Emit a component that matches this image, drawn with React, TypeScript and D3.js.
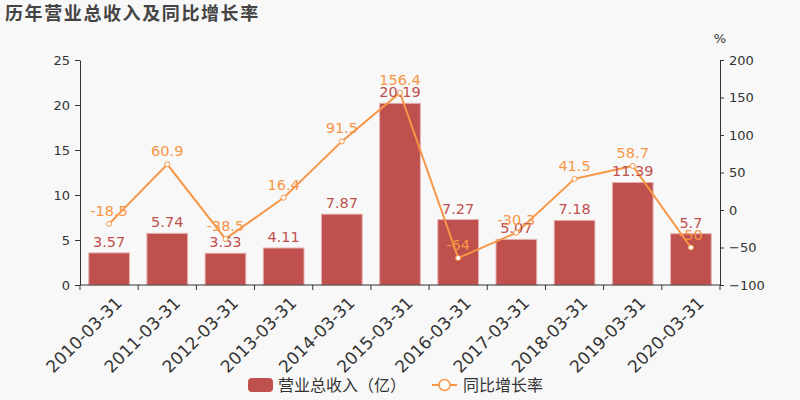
import React, { useRef, useEffect } from "react";
import * as d3 from "d3";

const CATEGORIES = [
  "2010-03-31", "2011-03-31", "2012-03-31", "2013-03-31", "2014-03-31", "2015-03-31",
  "2016-03-31", "2017-03-31", "2018-03-31", "2019-03-31", "2020-03-31",
];
const REVENUE = [3.57, 5.74, 3.53, 4.11, 7.87, 20.19, 7.27, 5.07, 7.18, 11.39, 5.7];
const GROWTH = [-18.5, 60.9, -38.5, 16.4, 91.5, 156.4, -64, -30.3, 41.5, 58.7, -50];
const LEFT_TICKS = [0, 5, 10, 15, 20, 25];
const RIGHT_TICKS = [-100, -50, 0, 50, 100, 150, 200];

const BAR_COLOR = "#c0504d";
const LINE_COLOR = "#f79646";
const TEXT_COLOR = "#333";
const FONT = "'DejaVu Sans', 'Noto Sans CJK SC', sans-serif";

const W = 800;
const H = 400;

const App: React.FC = () => {
  const svgRef = useRef<SVGSVGElement | null>(null);

  useEffect(() => {
    if (!svgRef.current) return;
    const svg = d3.select(svgRef.current);
    svg.selectAll("*").remove();

    const margin = { top: 60, right: 80, bottom: 115, left: 80 };
    const innerW = W - margin.left - margin.right;
    const innerH = H - margin.top - margin.bottom;

    svg.append("rect").attr("width", W).attr("height", H).attr("fill", "#f8f8f8");

    /* 标题 */
    svg.append("text")
      .attr("x", 5).attr("y", 20)
      .attr("font-family", FONT)
      .attr("font-size", "18px")
      .attr("font-weight", "bold")
      .attr("letter-spacing", "1.6px")
      .attr("fill", "#444")
      .text("历年营业总收入及同比增长率");

    const xc = d3.scaleBand().domain(CATEGORIES).range([0, innerW]);
    const yL = d3.scaleLinear().domain([0, 25]).range([innerH, 0]);
    const yR = d3.scaleLinear().domain([-100, 200]).range([innerH, 0]);
    const barW = xc.bandwidth() * 0.7;

    const g = svg.append("g").attr("transform", `translate(${margin.left},${margin.top})`);

    /* 柱 */
    g.selectAll(".bar")
      .data(REVENUE)
      .join("rect")
      .attr("x", (_, i) => xc(CATEGORIES[i])! + (xc.bandwidth() - barW) / 2)
      .attr("y", (d) => yL(d))
      .attr("width", barW)
      .attr("height", (d) => innerH - yL(d))
      .attr("fill", BAR_COLOR)
      .attr("stroke", "#e6b3b2")
      .attr("stroke-width", 1);

    /* 轴 */
    const axisStyle = (sel: d3.Selection<SVGGElement, unknown, null, undefined>) => {
      sel.select(".domain").attr("stroke", TEXT_COLOR);
      sel.selectAll(".tick line").attr("stroke", TEXT_COLOR);
      sel.selectAll(".tick text")
        .attr("fill", TEXT_COLOR)
        .attr("font-size", "13px")
        .attr("font-family", FONT);
    };
    g.append("g")
      .call(d3.axisLeft(yL).tickValues(LEFT_TICKS).tickSize(5).tickSizeOuter(0).tickPadding(5))
      .call(axisStyle);

    g.append("g")
      .attr("transform", `translate(${innerW},0)`)
      .call(d3.axisRight(yR).tickValues(RIGHT_TICKS).tickSize(4).tickSizeOuter(0).tickPadding(5))
      .call(axisStyle);

    g.append("text")
      .attr("x", innerW)
      .attr("y", -17)
      .attr("text-anchor", "middle")
      .attr("font-family", FONT)
      .attr("font-size", "13px")
      .attr("fill", TEXT_COLOR)
      .text("%");

    /* X 轴 */
    const xAxisG = g.append("g").attr("transform", `translate(0,${innerH})`);
    xAxisG.append("line").attr("x1", 0).attr("x2", innerW).attr("stroke", TEXT_COLOR);
    xAxisG.selectAll(".xt")
      .data(d3.range(CATEGORIES.length + 1))
      .join("line")
      .attr("x1", (i) => i * xc.step())
      .attr("x2", (i) => i * xc.step())
      .attr("y1", 0).attr("y2", 5)
      .attr("stroke", TEXT_COLOR);
    xAxisG.selectAll(".xl")
      .data(CATEGORIES)
      .join("text")
      .attr("transform", (d) => `translate(${xc(d)! + xc.bandwidth() / 2 + 5},10) rotate(-45)`)
      .attr("text-anchor", "end")
      .attr("dy", "0.75em")
      .attr("font-family", FONT)
      .attr("font-size", "17px")
      .attr("fill", TEXT_COLOR)
      .text((d) => d);

    /* 折线 */
    const cx = (i: number) => xc(CATEGORIES[i])! + xc.bandwidth() / 2;
    const line = d3.line<number>().x((_, i) => cx(i)).y((d) => yR(d));
    g.append("path")
      .datum(GROWTH)
      .attr("d", line)
      .attr("fill", "none")
      .attr("stroke", LINE_COLOR)
      .attr("stroke-width", 2);

    /* 柱标签 */
    g.selectAll(".bl")
      .data(REVENUE)
      .join("text")
      .attr("x", (_, i) => cx(i))
      .attr("y", (d) => yL(d) - 6)
      .attr("text-anchor", "middle")
      .attr("font-family", FONT)
      .attr("font-size", "14.5px")
      .attr("fill", BAR_COLOR)
      .text((d) => `${d}`);

    g.selectAll(".pt")
      .data(GROWTH)
      .join("circle")
      .attr("cx", (_, i) => cx(i))
      .attr("cy", (d) => yR(d))
      .attr("r", 2.5)
      .attr("fill", "#fff")
      .attr("stroke", LINE_COLOR)
      .attr("stroke-width", 1);

    /* 折线标签 */
    g.selectAll(".ll")
      .data(GROWTH)
      .join("text")
      .attr("x", (_, i) => cx(i))
      .attr("y", (d) => yR(d) - 8)
      .attr("text-anchor", "middle")
      .attr("font-family", FONT)
      .attr("font-size", "14.5px")
      .attr("fill", LINE_COLOR)
      .text((d) => `${d}`);

    /* 图例 */
    const lg = svg.append("g").attr("font-family", FONT).attr("font-size", "16px").attr("fill", TEXT_COLOR);
    lg.append("rect").attr("x", 248).attr("y", 378).attr("width", 25).attr("height", 14).attr("rx", 4).attr("fill", BAR_COLOR);
    lg.append("text").attr("x", 278).attr("y", 391).text("营业总收入（亿）");
    lg.append("line").attr("x1", 432).attr("x2", 457).attr("y1", 385).attr("y2", 385).attr("stroke", LINE_COLOR).attr("stroke-width", 2);
    lg.append("circle").attr("cx", 444.5).attr("cy", 385).attr("r", 5.5).attr("fill", "#fff").attr("stroke", LINE_COLOR).attr("stroke-width", 1.5);
    lg.append("text").attr("x", 463).attr("y", 391).text("同比增长率");
  }, []);

  return (
    <svg
      ref={svgRef}
      width={W}
      height={H}
      viewBox={`0 0 ${W} ${H}`}
      style={{ position: "fixed", top: 0, left: 0, display: "block" }}
    />
  );
};

export default App;
